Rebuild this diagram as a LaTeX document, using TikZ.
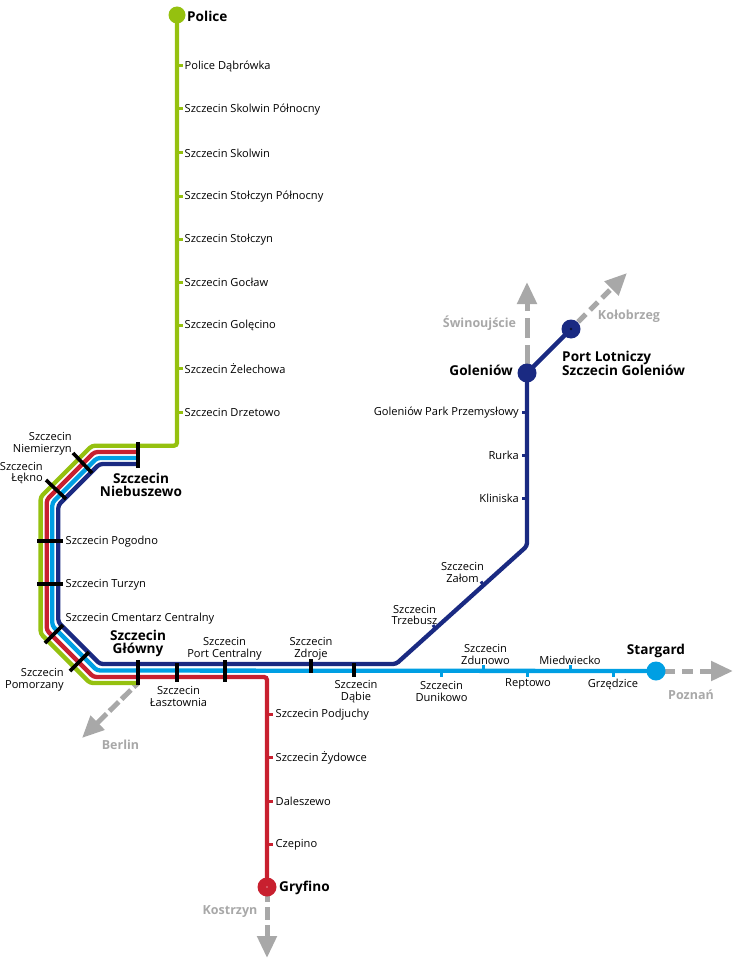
\documentclass[tikz,border=0pt]{standalone}
\usepackage{fontspec}
\setmainfont{Open Sans}
\usetikzlibrary{arrows.meta}
\definecolor{lgreen}{HTML}{95C10F}
\definecolor{lred}{HTML}{C8202F}
\definecolor{lblue}{HTML}{009FE3}
\definecolor{lnavy}{HTML}{1A2A82}
\definecolor{lgrey}{HTML}{A8A8A8}
\tikzset{
  x=1pt,y=-1pt,
  ln/.style={line width=4.3pt,rounded corners=3pt},
  tick/.style={line width=3pt},
  btick/.style={black,line width=3.6pt},
  term/.style={circle,inner sep=0pt,minimum size=19pt,fill=#1},
  lab/.style={inner sep=0pt,font=\fontsize{11.1}{11.6}\selectfont,align=center},
  blab/.style={inner sep=0pt,font=\fontsize{13.6}{13}\selectfont\bfseries,align=center},
  glab/.style={inner sep=0pt,font=\fontsize{12.5}{12.5}\selectfont\bfseries,text=lgrey,align=center},
  ext/.style={draw=lgrey,line width=5pt,-{Triangle[length=22pt,width=19pt,fill=lgrey]}},
}
\begin{document}
\begin{tikzpicture}
\useasboundingbox (0,0) rectangle (747,960);
% terminal nodes
\coordinate (police) at (177,15);
\coordinate (gryfino) at (267,887);
\coordinate (stargard) at (656,671);
\coordinate (goleniow) at (527,373);
\coordinate (port) at (571,329);
\coordinate (glowny) at (138,683);
\coordinate (xswin) at (527,282);
\coordinate (xkol) at (627,273);
\coordinate (xpoz) at (733,671);
\coordinate (xkos) at (267,958);
\coordinate (xber) at (82,738);
% external
\draw[ext,dash pattern=on 20pt off 7pt,dash phase=19pt] (goleniow) -- (xswin);
\draw[ext,dash pattern=on 11pt off 6pt,dash phase=7pt] (port) -- (xkol);
\draw[ext,dash pattern=on 11pt off 7pt,dash phase=10pt] (stargard) -- (xpoz);
\draw[ext,dash pattern=on 13pt off 5pt,dash phase=16pt] (gryfino) -- (xkos);
\draw[ext,dash pattern=on 13pt off 4pt,dash phase=7pt] (glowny) -- (xber);
% lines
\draw[ln,lgreen] (police) -- (177,445.7) -- (92,445.7) -- (40.6,497) -- (40.6,633.6) -- (90,683) -- (glowny);
\draw[ln,lred] (gryfino) -- (267,677) -- (93.5,677) -- (46.7,630.2) -- (46.7,499.8) -- (94.5,452) -- (138,452);
\draw[ln,lblue] (stargard) -- (97,670.5) -- (52.3,625.8) -- (52.3,502.7) -- (97,458) -- (138,458);
\draw[ln,lnavy] (port) -- (goleniow) -- (527,546) -- (396,664) -- (100,664) -- (58.3,622.3) -- (58.3,505.2) -- (99.5,464) -- (138,464);
% terminal nodes on top
\node[term=lgreen,minimum size=17pt] (npolice) at (police) {};
\node[term=lred] (ngryfino) at (gryfino) {};
\node[term=lblue] (nstargard) at (stargard) {};
\node[term=lnavy] (ngoleniow) at (goleniow) {};
\node[term=lnavy] (nport) at (port) {};
% minor ticks, green
\foreach \y/\t in {66/Police Dąbrówka,109/Szczecin Skolwin Północny,153/Szczecin Skolwin,196/Szczecin Stołczyn Północny,239/Szczecin Stołczyn,282/Szczecin Gocław,325/Szczecin Golęcino,368/Szczecin Żelechowa,412/Szczecin Drzetowo}{
  \draw[tick,lgreen] (177,\y) -- (182.5,\y);
  \node[lab,anchor=west] at (184.5,\y+0.7) {\t};
}
% red
\foreach \y/\t in {714/Szczecin Podjuchy,757/Szczecin Żydowce,801/Daleszewo,844/Czepino}{
  \draw[tick,lred] (267,\y) -- (273,\y);
  \node[lab,anchor=west] at (275.5,\y+0.7) {\t};
}
% navy vertical
\foreach \y/\t in {412/Goleniów Park Przemysłowy,455/Rurka,498/Kliniska}{
  \draw[tick,lnavy] (527,\y) -- (521.5,\y);
  \node[lab,anchor=east] at (519,\y+0.7) {\t};
}
\draw[tick,lnavy] (435.5,629) -- (433,625);
\draw[tick,lnavy] (483.5,585.5) -- (481,581.5);
% blue
\foreach \x in {441.7,527,613}{\draw[tick,lblue] (\x,671) -- (\x,677);}
\foreach \x in {483.5,570}{\draw[tick,lblue] (\x,671) -- (\x,665);}
% major ticks
\draw[btick] (138,442) -- (138,468);
\draw[btick] (73,453) -- (92,473);
\draw[btick] (46,480) -- (66,499);
\draw[btick] (37,541) -- (63,541);
\draw[btick] (37,584) -- (63,584);
\draw[btick] (63,625) -- (45,643);
\draw[btick] (89,652) -- (70,671);
\draw[btick] (138,660) -- (138,685);
\draw[btick] (177,662.5) -- (177,682);
\draw[btick] (225,660) -- (225,682);
\draw[btick] (311,659) -- (311,673);
\draw[btick] (354,663) -- (354,677);
% inner dots
\fill[black!60!lnavy] (571,329) circle (1.3pt);
\fill[lred!50!white] (267,887) circle (.8pt);
% labels
\node[blab,anchor=west] (tpolice) at (187,16) {Police};
\node[blab,anchor=west] (tgry) at (279,887.5) {Gryfino};
\node[blab] (tsta) at (656,651) {Stargard};
\node[blab,anchor=east] (tgol) at (513,370.5) {Goleniów};
\node[blab,anchor=west,align=left] (tport) at (562,363.5) {Port Lotniczy\\Szczecin Goleniów};
\node[blab] (tnieb) at (141,484.5) {Szczecin\\Niebuszewo};
\node[blab] (tglow) at (138,643.5) {Szczecin\\Główny};
\node[lab,align=right,anchor=east] (t1) at (72,444) {Szczecin\\Niemierzyn};
\node[lab,align=right,anchor=east] (t2) at (43,473) {Szczecin\\Łękno};
\node[lab,anchor=west] (t3) at (65.5,541.7) {Szczecin Pogodno};
\node[lab,anchor=west] (t4) at (65.5,584.7) {Szczecin Turzyn};
\node[lab,anchor=west] (t5) at (65.5,618.5) {Szczecin Cmentarz Centralny};
\node[lab,align=right,anchor=east] (t6) at (64,680) {Szczecin\\Pomorzany};
\node[lab] (t7) at (178.5,696.5) {Szczecin\\Łasztownia};
\node[lab] (t8) at (224.5,648.5) {Szczecin\\Port Centralny};
\node[lab] (t9) at (311,648.5) {Szczecin\\Zdroje};
\node[lab] (t10) at (356,691.5) {Szczecin\\Dąbie};
\node[lab] (t11) at (441.5,691.5) {Szczecin\\Dunikowo};
\node[lab] (t12) at (485.5,654.5) {Szczecin\\Zdunowo};
\node[lab] (t13) at (528,683.5) {Reptowo};
\node[lab] (t14) at (570,660.5) {Miedwiecko};
\node[lab] (t15) at (613,684.5) {Grzędzice};
\node[lab] (t16) at (414.5,615) {Szczecin\\Trzebusz};
\node[lab] (t17) at (462.5,572.5) {Szczecin\\Załom};
\node[glab] (g1) at (479.5,323.5) {Świnoujście};
\node[glab] (g2) at (629,316.5) {Kołobrzeg};
\node[glab] (g3) at (691,695) {Poznań};
\node[glab] (g4) at (230,912) {Kostrzyn};
\node[glab] (g5) at (120.5,745) {Berlin};
\end{tikzpicture}
\end{document}
